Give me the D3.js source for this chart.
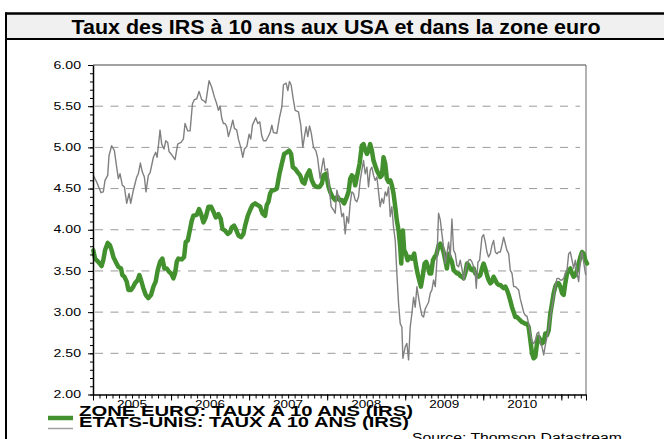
<!DOCTYPE html>
<html>
<head>
<meta charset="utf-8">
<script src="https://cdn.jsdelivr.net/npm/d3@7"></script>
<style>
  body { margin: 0; background: #fff; }
  svg { display: block; }
  text { font-family: "Liberation Sans", Arial, sans-serif; }
</style>
</head>
<body>
<svg id="chart"></svg>
<script>
const title = "Taux des IRS à 10 ans aux USA et dans la zone euro";
const seriesNames = ["ZONE EURO: TAUX A 10 ANS (IRS)", "ETATS-UNIS: TAUX A 10 ANS (IRS)"];
const sourceText = "Source: Thomson Datastream";
const yTicks = [2.0, 2.5, 3.0, 3.5, 4.0, 4.5, 5.0, 5.5, 6.0];
const yearLabels = [2005, 2006, 2007, 2008, 2009, 2010];
const yearTicks = [2005, 2006, 2007, 2008, 2009, 2010, 2011];
const xDomain = [2005, 2011.316];

// [decimal year, rate %]
const euroSwap = [
  [2005.004,3.75],[2005.026,3.65],[2005.068,3.61],[2005.111,3.56],[2005.132,3.63],[2005.154,3.75],
  [2005.188,3.84],[2005.218,3.81],[2005.239,3.75],[2005.261,3.67],[2005.291,3.61],[2005.325,3.55],
  [2005.359,3.53],[2005.376,3.45],[2005.402,3.43],[2005.432,3.37],[2005.453,3.27],[2005.487,3.27],
  [2005.517,3.31],[2005.538,3.35],[2005.573,3.39],[2005.594,3.45],[2005.615,3.39],[2005.645,3.29],
  [2005.675,3.21],[2005.709,3.17],[2005.744,3.21],[2005.774,3.31],[2005.803,3.37],[2005.829,3.51],
  [2005.859,3.61],[2005.889,3.65],[2005.915,3.53],[2005.944,3.53],[2005.974,3.49],[2006.000,3.47],
  [2006.030,3.41],[2006.051,3.47],[2006.073,3.61],[2006.094,3.65],[2006.137,3.64],[2006.167,3.67],
  [2006.188,3.85],[2006.214,3.87],[2006.244,4.01],[2006.265,4.11],[2006.286,4.17],[2006.329,4.18],
  [2006.359,4.25],[2006.385,4.19],[2006.415,4.09],[2006.444,4.15],[2006.479,4.28],[2006.513,4.28],
  [2006.543,4.22],[2006.573,4.15],[2006.607,4.19],[2006.637,4.13],[2006.658,4.01],[2006.692,3.99],
  [2006.726,3.95],[2006.756,3.97],[2006.778,4.03],[2006.808,4.05],[2006.829,4.01],[2006.863,3.93],
  [2006.897,3.91],[2006.927,3.95],[2006.949,4.05],[2006.983,4.17],[2007.013,4.24],[2007.043,4.30],
  [2007.077,4.32],[2007.111,4.30],[2007.141,4.28],[2007.171,4.20],[2007.205,4.17],[2007.226,4.30],
  [2007.248,4.34],[2007.269,4.44],[2007.291,4.48],[2007.321,4.48],[2007.355,4.50],[2007.389,4.68],
  [2007.419,4.80],[2007.449,4.92],[2007.483,4.94],[2007.513,4.96],[2007.538,4.92],[2007.560,4.76],
  [2007.590,4.74],[2007.620,4.70],[2007.654,4.66],[2007.684,4.58],[2007.709,4.56],[2007.739,4.66],
  [2007.774,4.72],[2007.803,4.60],[2007.833,4.54],[2007.868,4.52],[2007.902,4.52],[2007.932,4.56],
  [2007.953,4.66],[2007.987,4.68],[2008.017,4.52],[2008.038,4.46],[2008.068,4.40],[2008.103,4.36],
  [2008.132,4.40],[2008.158,4.36],[2008.188,4.36],[2008.218,4.32],[2008.252,4.40],[2008.274,4.46],
  [2008.295,4.62],[2008.316,4.66],[2008.338,4.64],[2008.359,4.54],[2008.389,4.68],[2008.415,4.80],
  [2008.444,5.02],[2008.466,5.04],[2008.487,4.97],[2008.509,4.92],[2008.530,4.96],[2008.551,5.04],
  [2008.573,4.96],[2008.594,4.84],[2008.615,4.78],[2008.637,4.72],[2008.658,4.68],[2008.679,4.64],
  [2008.701,4.66],[2008.722,4.88],[2008.744,4.80],[2008.765,4.62],[2008.786,4.58],[2008.808,4.60],
  [2008.829,4.54],[2008.850,4.44],[2008.872,4.28],[2008.893,4.11],[2008.915,3.99],[2008.936,3.79],
  [2008.949,3.59],[2008.970,3.99],[2008.987,3.75],[2009.009,3.71],[2009.030,3.63],[2009.056,3.67],
  [2009.085,3.65],[2009.115,3.71],[2009.141,3.55],[2009.158,3.47],[2009.179,3.39],[2009.201,3.31],
  [2009.226,3.45],[2009.248,3.59],[2009.269,3.61],[2009.291,3.55],[2009.312,3.47],[2009.333,3.47],
  [2009.355,3.63],[2009.376,3.67],[2009.397,3.69],[2009.427,3.81],[2009.449,3.83],[2009.470,3.79],
  [2009.491,3.73],[2009.513,3.63],[2009.534,3.53],[2009.556,3.71],[2009.577,3.65],[2009.598,3.61],
  [2009.620,3.51],[2009.641,3.49],[2009.662,3.47],[2009.684,3.47],[2009.705,3.44],[2009.726,3.43],
  [2009.748,3.41],[2009.769,3.47],[2009.791,3.59],[2009.812,3.57],[2009.833,3.53],[2009.855,3.51],
  [2009.876,3.53],[2009.897,3.47],[2009.919,3.45],[2009.940,3.43],[2009.962,3.45],[2009.983,3.53],
  [2010.004,3.59],[2010.026,3.53],[2010.047,3.45],[2010.068,3.39],[2010.090,3.35],[2010.111,3.37],
  [2010.132,3.43],[2010.154,3.39],[2010.175,3.35],[2010.197,3.33],[2010.218,3.33],[2010.239,3.31],
  [2010.261,3.29],[2010.282,3.31],[2010.303,3.27],[2010.325,3.21],[2010.346,3.14],[2010.368,3.06],
  [2010.389,3.00],[2010.410,2.94],[2010.432,2.94],[2010.453,2.92],[2010.474,2.90],[2010.496,2.88],
  [2010.517,2.87],[2010.538,2.86],[2010.560,2.86],[2010.581,2.82],[2010.603,2.66],[2010.624,2.50],
  [2010.645,2.44],[2010.667,2.46],[2010.688,2.62],[2010.709,2.70],[2010.731,2.66],[2010.752,2.62],
  [2010.774,2.64],[2010.795,2.74],[2010.816,2.72],[2010.838,2.78],[2010.859,2.98],[2010.880,3.10],
  [2010.902,3.23],[2010.923,3.31],[2010.944,3.35],[2010.966,3.35],[2010.987,3.31],[2011.009,3.23],
  [2011.030,3.21],[2011.051,3.35],[2011.073,3.47],[2011.094,3.51],[2011.115,3.53],[2011.137,3.47],
  [2011.158,3.43],[2011.179,3.45],[2011.201,3.51],[2011.222,3.59],[2011.244,3.67],[2011.265,3.73],
  [2011.286,3.71],[2011.308,3.63],[2011.329,3.59]
];

const usSwap = [
  [2005.004,4.66],[2005.047,4.58],[2005.103,4.45],[2005.132,4.46],[2005.154,4.60],[2005.188,4.66],
  [2005.205,4.90],[2005.239,5.02],[2005.274,4.96],[2005.303,4.76],[2005.325,4.62],[2005.346,4.68],
  [2005.376,4.54],[2005.402,4.52],[2005.432,4.32],[2005.462,4.44],[2005.483,4.32],[2005.517,4.48],
  [2005.560,4.64],[2005.581,4.68],[2005.607,4.81],[2005.632,4.70],[2005.658,4.64],[2005.679,4.46],
  [2005.709,4.66],[2005.731,4.69],[2005.774,4.88],[2005.803,4.94],[2005.821,4.88],[2005.838,5.02],
  [2005.859,5.21],[2005.880,5.04],[2005.910,4.98],[2005.932,5.08],[2005.957,5.06],[2005.974,4.95],
  [2006.009,4.91],[2006.051,4.85],[2006.085,5.04],[2006.128,5.06],[2006.158,5.10],[2006.179,5.29],
  [2006.214,5.20],[2006.244,5.20],[2006.274,5.53],[2006.299,5.58],[2006.329,5.59],[2006.359,5.68],
  [2006.393,5.58],[2006.427,5.56],[2006.444,5.54],[2006.487,5.81],[2006.521,5.73],[2006.556,5.61],
  [2006.585,5.53],[2006.607,5.45],[2006.628,5.50],[2006.650,5.35],[2006.671,5.29],[2006.692,5.29],
  [2006.714,5.25],[2006.735,5.13],[2006.765,5.23],[2006.791,5.33],[2006.812,5.23],[2006.842,5.21],
  [2006.863,5.10],[2006.893,5.00],[2006.919,4.88],[2006.940,4.98],[2006.970,5.01],[2007.000,5.16],
  [2007.021,5.10],[2007.043,5.27],[2007.085,5.36],[2007.111,5.29],[2007.137,5.31],[2007.162,5.14],
  [2007.184,5.08],[2007.214,5.08],[2007.239,5.12],[2007.269,5.18],[2007.291,5.27],[2007.312,5.18],
  [2007.355,5.17],[2007.389,5.36],[2007.419,5.49],[2007.440,5.76],[2007.474,5.78],[2007.496,5.69],
  [2007.517,5.80],[2007.538,5.76],[2007.568,5.57],[2007.590,5.45],[2007.632,5.43],[2007.662,5.27],
  [2007.688,5.00],[2007.709,5.13],[2007.731,5.25],[2007.752,5.13],[2007.774,5.26],[2007.795,5.18],
  [2007.825,5.00],[2007.855,4.96],[2007.876,4.88],[2007.897,4.72],[2007.910,4.62],[2007.932,4.76],
  [2007.953,4.87],[2007.974,4.72],[2008.004,4.74],[2008.030,4.48],[2008.051,4.28],[2008.081,4.24],
  [2008.103,4.20],[2008.124,4.48],[2008.145,4.40],[2008.167,4.30],[2008.188,4.16],[2008.209,4.20],
  [2008.231,3.95],[2008.252,4.16],[2008.274,4.08],[2008.295,4.32],[2008.316,4.46],[2008.338,4.44],
  [2008.359,4.36],[2008.380,4.34],[2008.402,4.40],[2008.423,4.60],[2008.444,4.72],[2008.466,4.84],
  [2008.487,4.68],[2008.509,4.76],[2008.530,4.52],[2008.551,4.72],[2008.573,4.76],[2008.594,4.66],
  [2008.615,4.60],[2008.637,4.64],[2008.658,4.46],[2008.679,4.28],[2008.701,4.38],[2008.722,4.32],
  [2008.744,4.46],[2008.765,4.41],[2008.786,4.52],[2008.808,4.16],[2008.829,4.28],[2008.850,4.03],
  [2008.872,3.87],[2008.893,3.47],[2008.915,3.10],[2008.936,2.86],[2008.957,2.82],[2008.970,2.44],
  [2009.000,2.58],[2009.021,2.62],[2009.043,2.42],[2009.064,2.82],[2009.085,2.98],[2009.107,3.18],
  [2009.128,3.06],[2009.150,3.31],[2009.162,3.23],[2009.192,3.06],[2009.214,2.96],[2009.235,2.94],
  [2009.256,3.04],[2009.278,3.08],[2009.299,3.12],[2009.321,3.23],[2009.342,3.27],[2009.363,3.39],
  [2009.385,3.31],[2009.406,3.63],[2009.427,4.20],[2009.449,4.12],[2009.470,3.95],[2009.491,3.79],
  [2009.513,3.59],[2009.534,3.71],[2009.556,3.85],[2009.577,3.67],[2009.598,4.13],[2009.620,3.75],
  [2009.641,3.71],[2009.662,3.57],[2009.684,3.55],[2009.705,3.63],[2009.726,3.53],[2009.748,3.39],
  [2009.769,3.49],[2009.791,3.59],[2009.812,3.63],[2009.833,3.64],[2009.855,3.61],[2009.876,3.55],
  [2009.897,3.47],[2009.910,3.29],[2009.932,3.61],[2009.953,3.63],[2009.983,3.91],[2010.004,3.94],
  [2010.026,3.85],[2010.047,3.73],[2010.068,3.67],[2010.090,3.71],[2010.111,3.81],[2010.132,3.87],
  [2010.154,3.73],[2010.175,3.71],[2010.197,3.73],[2010.218,3.73],[2010.239,3.81],[2010.261,3.91],
  [2010.282,3.83],[2010.303,3.75],[2010.325,3.71],[2010.346,3.51],[2010.368,3.47],[2010.389,3.31],
  [2010.410,3.31],[2010.432,3.29],[2010.453,3.27],[2010.474,3.16],[2010.496,3.08],[2010.517,3.00],
  [2010.538,2.96],[2010.560,2.95],[2010.581,2.86],[2010.603,2.74],[2010.624,2.64],[2010.645,2.62],
  [2010.667,2.66],[2010.688,2.74],[2010.709,2.76],[2010.731,2.62],[2010.752,2.58],[2010.774,2.48],
  [2010.795,2.60],[2010.816,2.70],[2010.838,2.80],[2010.859,2.94],[2010.880,3.06],[2010.902,3.18],
  [2010.923,3.31],[2010.944,3.41],[2010.966,3.41],[2010.987,3.39],[2011.009,3.39],[2011.030,3.41],
  [2011.051,3.47],[2011.073,3.51],[2011.094,3.71],[2011.115,3.73],[2011.137,3.63],[2011.158,3.53],
  [2011.179,3.63],[2011.201,3.47],[2011.222,3.37],[2011.244,3.63],[2011.265,3.73],[2011.286,3.61],
  [2011.308,3.47],[2011.316,3.45]
];

const width = 664, height = 439;
const plot = {left: 93, right: 586, top: 65, bottom: 394.5};

const svg = d3.select("#chart")
    .attr("width", width)
    .attr("height", height);

// frame and title band
svg.append("rect")
    .attr("x", 6).attr("y", 13)
    .attr("width", width - 6).attr("height", 26)
    .attr("fill", "#f0f0f0");
svg.append("line")
    .attr("x1", 5).attr("x2", width).attr("y1", 13.5).attr("y2", 13.5)
    .attr("stroke", "#000").attr("stroke-width", 2.5);
svg.append("line")
    .attr("x1", 5).attr("x2", width).attr("y1", 39).attr("y2", 39)
    .attr("stroke", "#000").attr("stroke-width", 2);
svg.append("line")
    .attr("x1", 6).attr("x2", 6).attr("y1", 12.5).attr("y2", height)
    .attr("stroke", "#000").attr("stroke-width", 2);

svg.append("text")
    .attr("x", 336).attr("y", 33.5)
    .attr("text-anchor", "middle")
    .attr("font-size", 21).attr("font-weight", "bold")
    .attr("textLength", 529).attr("lengthAdjust", "spacingAndGlyphs")
    .text(title);

const x = d3.scaleLinear().domain(xDomain).range([plot.left, plot.right]);
const y = d3.scaleLinear().domain([2, 6]).range([plot.bottom, plot.top]);

// dashed grid
svg.append("g")
    .selectAll("line")
    .data(yTicks.filter(d => d > 2 && d < 6))
    .enter()
    .append("line")
    .attr("x1", plot.left + 2).attr("x2", plot.right - 6)
    .attr("y1", d => y(d)).attr("y2", d => y(d))
    .attr("stroke", "#9a9a9a")
    .attr("stroke-width", 1)
    .attr("stroke-dasharray", "8,7.5");

// top and right border of plot
svg.append("line")
    .attr("x1", plot.left).attr("x2", plot.right).attr("y1", plot.top).attr("y2", plot.top)
    .attr("stroke", "#444").attr("stroke-width", 1);
svg.append("line")
    .attr("x1", plot.right).attr("x2", plot.right).attr("y1", plot.top).attr("y2", plot.bottom)
    .attr("stroke", "#666").attr("stroke-width", 1);

// series
const line = d3.line()
    .x(d => x(d[0]))
    .y(d => y(d[1]))
    .curve(d3.curveLinear);

svg.append("path")
    .datum(euroSwap)
    .attr("d", line)
    .attr("fill", "none")
    .attr("stroke", "#43902f")
    .attr("stroke-width", 4.5)
    .attr("stroke-linejoin", "round")
    .attr("stroke-linecap", "round");

svg.append("path")
    .datum(usSwap)
    .attr("d", line)
    .attr("fill", "none")
    .attr("stroke", "#808080")
    .attr("stroke-width", 1.4)
    .attr("stroke-linejoin", "round");

// y axis: minor then major
svg.append("g")
    .attr("transform", `translate(${plot.left},0)`)
    .call(d3.axisLeft(y).ticks(40).tickSize(3).tickFormat("").tickSizeOuter(0))
    .call(g => g.select(".domain").remove())
    .call(g => g.selectAll("line").attr("stroke", "#000"));

const yAxis = svg.append("g")
    .attr("transform", `translate(${plot.left},0)`)
    .call(d3.axisLeft(y).tickValues(yTicks).tickSize(5).tickSizeOuter(0).tickPadding(7)
        .tickFormat(d3.format(".2f")));
yAxis.select(".domain").attr("stroke", "#000").attr("stroke-width", 1.5);
yAxis.selectAll("text")
    .attr("font-size", 10)
    .attr("fill", "#000")
    .attr("font-family", "Liberation Sans, Arial, sans-serif")
    .attr("textLength", 27.5)
    .attr("lengthAdjust", "spacingAndGlyphs");

// x axis: monthly minor ticks, yearly major ticks, labels mid-year
svg.append("g")
    .attr("transform", `translate(0,${plot.bottom})`)
    .call(d3.axisBottom(x).tickValues(d3.range(2005, xDomain[1], 1 / 12)).tickSize(4).tickFormat("").tickSizeOuter(0))
    .call(g => g.select(".domain").remove())
    .call(g => g.selectAll("line").attr("stroke", "#000"));

const xAxis = svg.append("g")
    .attr("transform", `translate(0,${plot.bottom})`)
    .call(d3.axisBottom(x).tickValues(yearTicks.concat([xDomain[1]])).tickSize(6).tickFormat("").tickSizeOuter(0));
xAxis.select(".domain").attr("stroke", "#000").attr("stroke-width", 1.5);

svg.append("g")
    .selectAll("text")
    .data(yearLabels)
    .enter()
    .append("text")
    .attr("x", d => x(d + 0.5))
    .attr("y", plot.bottom + 13)
    .attr("text-anchor", "middle")
    .attr("font-size", 10.5)
    .attr("textLength", 30)
    .attr("lengthAdjust", "spacingAndGlyphs")
    .text(d => d);

// legend
const legendColors = ["#43902f", "#a0a0a0"];
const legendWidths = [4.5, 1.5];
const legendTextLen = [334, 330];
const legend = svg.append("g");
seriesNames.forEach((name, i) => {
    legend.append("line")
        .attr("x1", 48).attr("x2", 73)
        .attr("y1", 418 + i * 10.5).attr("y2", 418 + i * 10.5)
        .attr("stroke", legendColors[i])
        .attr("stroke-width", legendWidths[i]);
    legend.append("text")
        .attr("x", 79).attr("y", 416 + i * 11)
        .attr("font-size", 14.5).attr("font-weight", "bold")
        .attr("textLength", legendTextLen[i])
        .attr("lengthAdjust", "spacingAndGlyphs")
        .text(name);
});

svg.append("text")
    .attr("x", 412).attr("y", 442)
    .attr("font-size", 12.5)
    .attr("textLength", 210)
    .attr("lengthAdjust", "spacingAndGlyphs")
    .text(sourceText);
</script>
</body>
</html>
